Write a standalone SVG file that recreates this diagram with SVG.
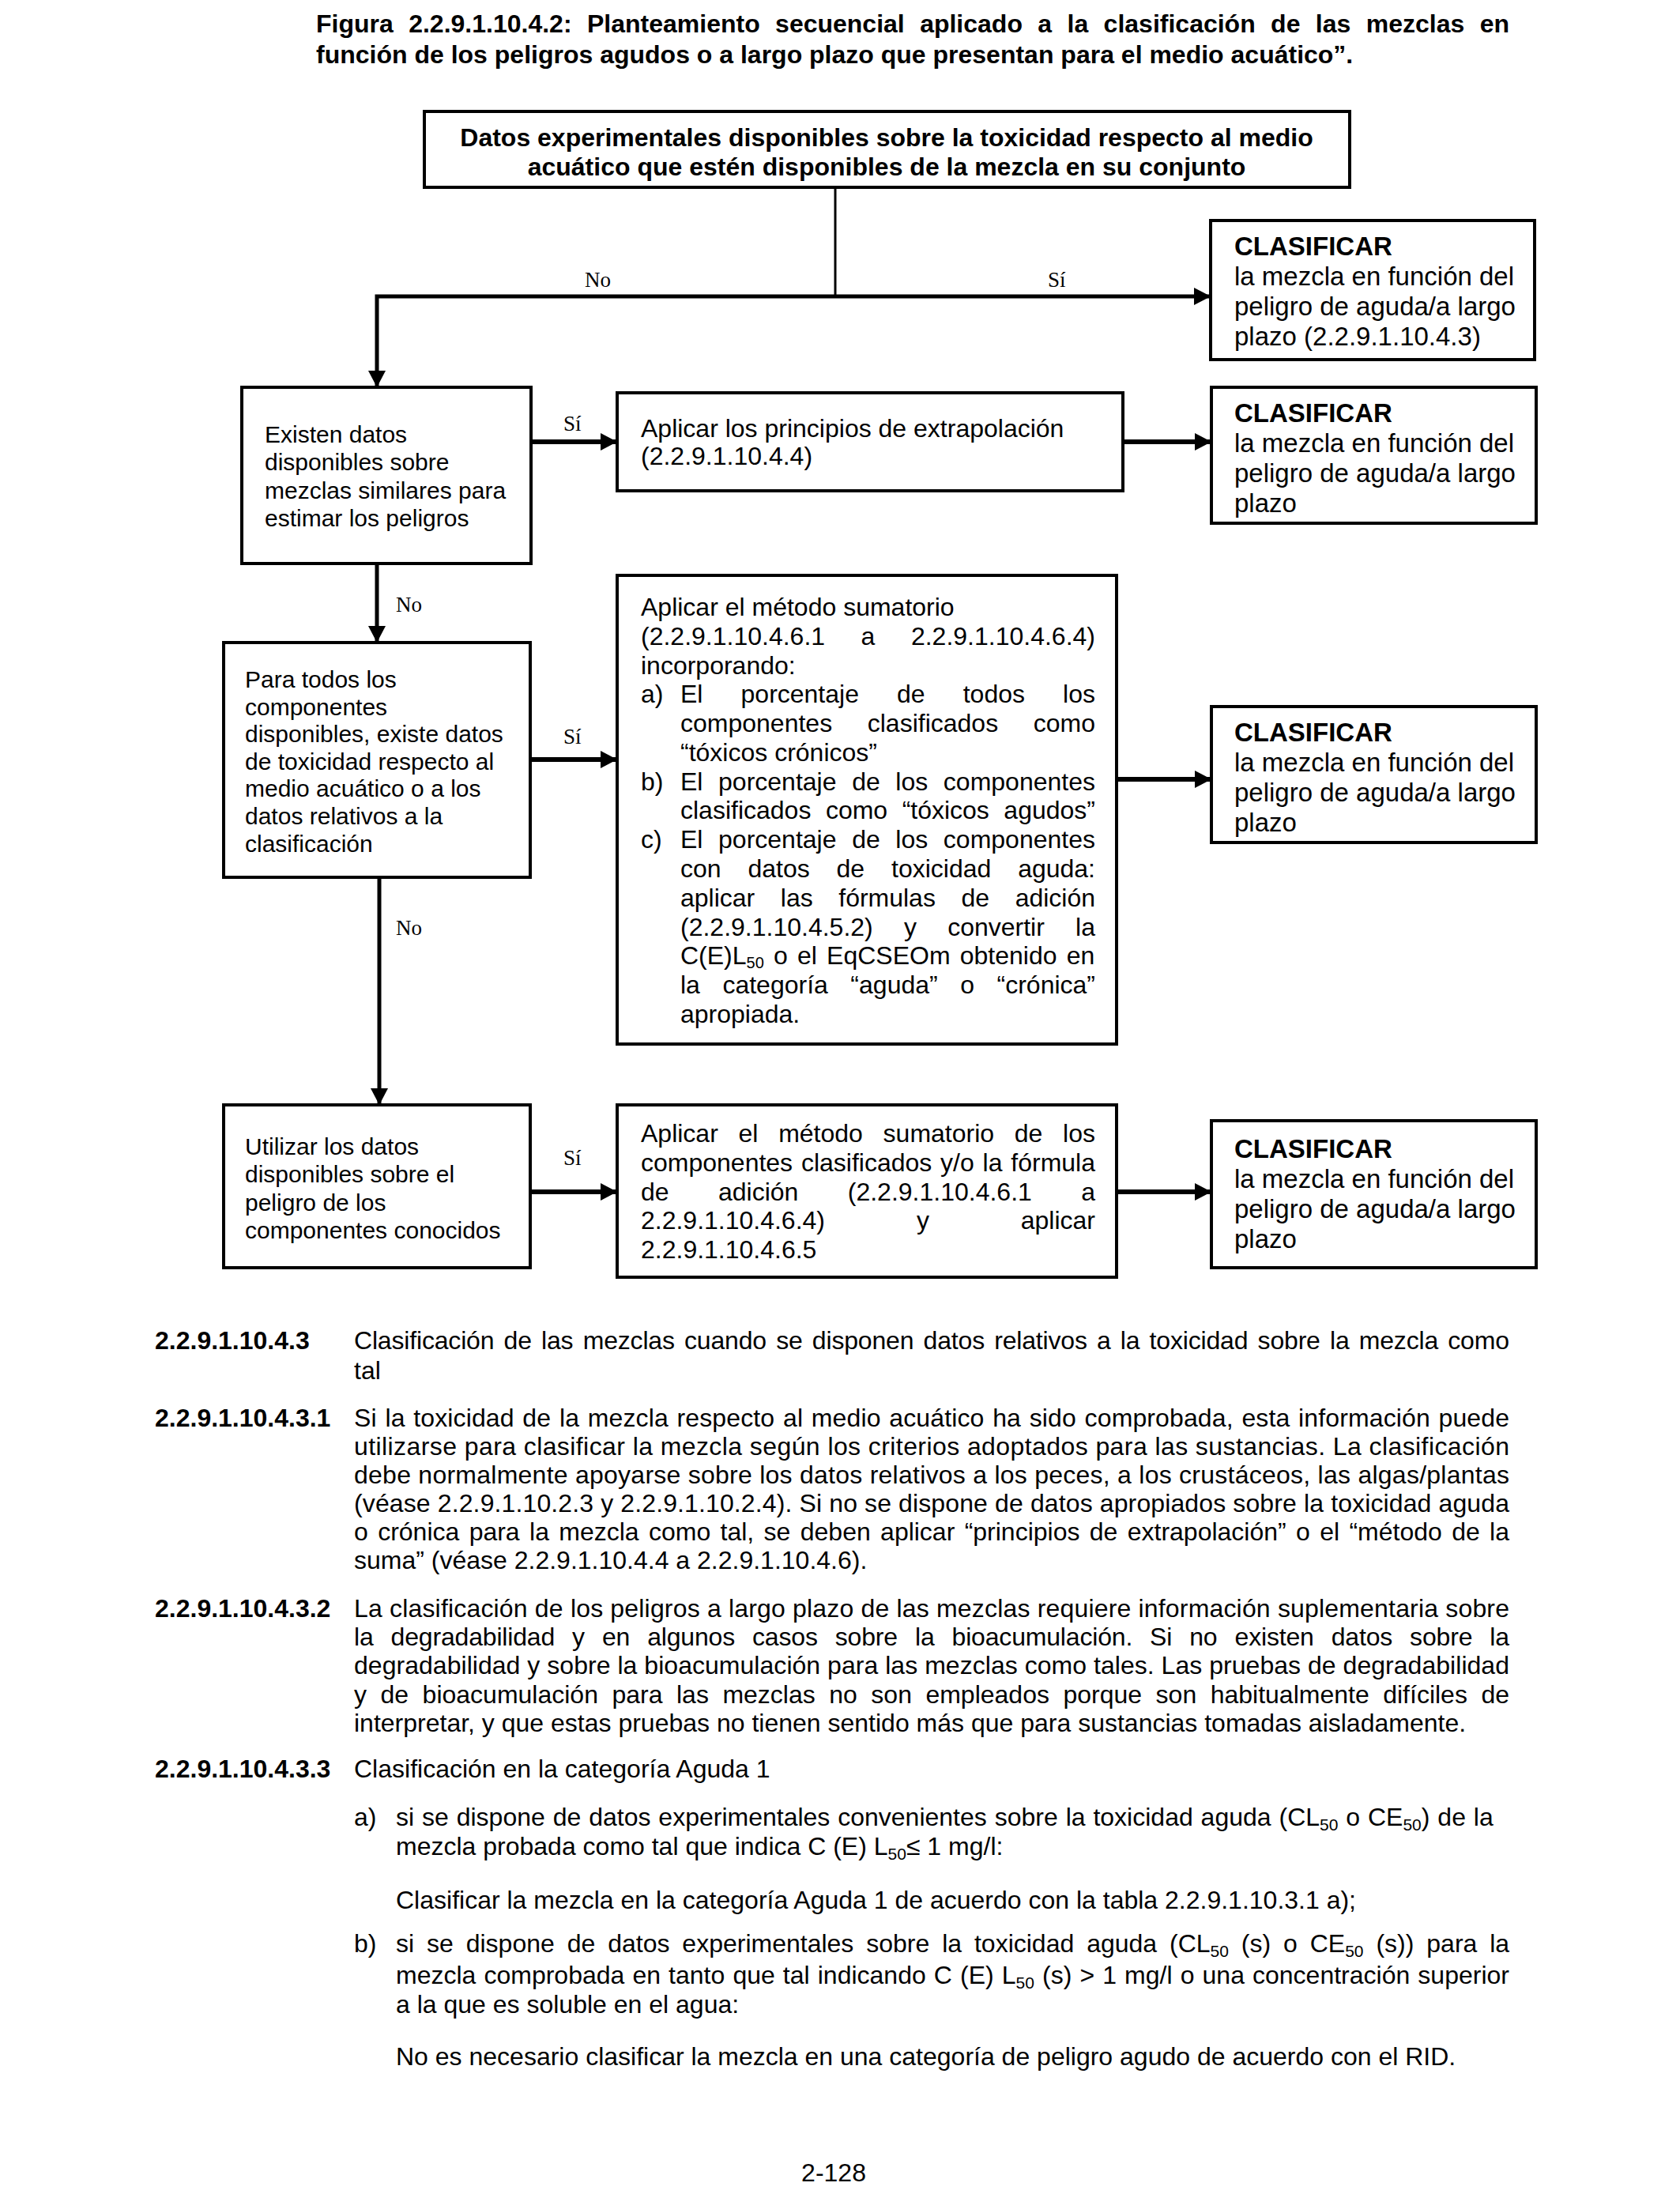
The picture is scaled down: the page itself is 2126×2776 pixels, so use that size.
<svg xmlns="http://www.w3.org/2000/svg" width="2126" height="2776" viewBox="0 0 2126 2776">
<defs>
<style>
.t{font-family:"Liberation Sans",Arial,sans-serif;font-size:32px;fill:#000}
.b{font-weight:bold}
.s30{font-size:30px}
.s33{font-size:33px}
.lbl{font-family:"Liberation Serif","Times New Roman",serif;font-size:27px;fill:#000}
.box{fill:#fff;stroke:#000;stroke-width:4}
.ln{stroke:#000;fill:none;stroke-width:5}
.thk{stroke-width:6}
.thin{stroke-width:3}
</style>
<marker id="ah" markerUnits="userSpaceOnUse" markerWidth="22" markerHeight="24" refX="21" refY="12" orient="auto" viewBox="0 0 22 24"><path d="M0,1 L21,12 L0,23 z" fill="#000"/></marker>
<clipPath id="topclip"><rect x="537" y="141" width="1171" height="88"/></clipPath>
</defs>
<rect width="2126" height="2776" fill="#fff"/>

<g id="title">
<text class="t b" x="400" y="41" word-spacing="10.5" textLength="1510" lengthAdjust="spacing">Figura 2.2.9.1.10.4.2: Planteamiento secuencial aplicado a la clasificación de las mezclas en</text>
<text class="t b" x="400" y="80">función de los peligros agudos o a largo plazo que presentan para el medio acuático”.</text>
</g>

<g id="connectors">
<path class="ln thin" d="M1057,237 V375"/>
<path class="ln" d="M1057,375 H477 V490" marker-end="url(#ah)"/>
<path class="ln" d="M1057,375 H1532" marker-end="url(#ah)"/>
<path class="ln thk" d="M672,559 H781" marker-end="url(#ah)"/>
<path class="ln thk" d="M1421,559 H1533" marker-end="url(#ah)"/>
<path class="ln" d="M477,713 V813" marker-end="url(#ah)"/>
<path class="ln thk" d="M671,961 H781" marker-end="url(#ah)"/>
<path class="ln thk" d="M1413,986 H1533" marker-end="url(#ah)"/>
<path class="ln" d="M480,1110 V1398" marker-end="url(#ah)"/>
<path class="ln thk" d="M671,1508 H781" marker-end="url(#ah)"/>
<path class="ln thk" d="M1413,1508 H1533" marker-end="url(#ah)"/>
<text class="lbl" x="740" y="363">No</text>
<text class="lbl" x="1326" y="363">Sí</text>
<text class="lbl" x="713" y="545">Sí</text>
<text class="lbl" x="501" y="774">No</text>
<text class="lbl" x="713" y="941">Sí</text>
<text class="lbl" x="501" y="1183">No</text>
<text class="lbl" x="713" y="1474">Sí</text>
</g>

<g id="n-datos">
<rect class="box" x="537" y="141" width="1171" height="96"/>
<g clip-path="url(#topclip)">
<text class="t b" x="1122" y="185" text-anchor="middle">Datos experimentales disponibles sobre la toxicidad respecto al medio</text>
<text class="t b" x="1122" y="222" text-anchor="middle">acuático que estén disponibles de la mezcla en su conjunto</text>
</g>
</g>

<g id="n-clas1">
<rect class="box" x="1532" y="279" width="410" height="176"/>
<text class="t s33 b" x="1562" y="323">CLASIFICAR</text>
<text class="t s33" x="1562" y="361">la mezcla en función del</text>
<text class="t s33" x="1562" y="399">peligro de aguda/a largo</text>
<text class="t s33" x="1562" y="437">plazo (2.2.9.1.10.4.3)</text>
</g>

<g id="n-existen">
<rect class="box" x="306" y="490" width="366" height="223"/>
<text class="t s30" x="335" y="560">Existen datos</text>
<text class="t s30" x="335" y="595">disponibles sobre</text>
<text class="t s30" x="335" y="631">mezclas similares para</text>
<text class="t s30" x="335" y="666">estimar los peligros</text>
</g>

<g id="n-extrapolacion">
<rect class="box" x="781" y="497" width="640" height="124"/>
<text class="t" x="811" y="553">Aplicar los principios de extrapolación</text>
<text class="t" x="811" y="588">(2.2.9.1.10.4.4)</text>
</g>

<g id="n-clas2">
<rect class="box" x="1533" y="490" width="411" height="172"/>
<text class="t s33 b" x="1562" y="534">CLASIFICAR</text>
<text class="t s33" x="1562" y="572">la mezcla en función del</text>
<text class="t s33" x="1562" y="610">peligro de aguda/a largo</text>
<text class="t s33" x="1562" y="648">plazo</text>
</g>

<g id="n-paratodos">
<rect class="box" x="283" y="813" width="388" height="297"/>
<text class="t s30" x="310" y="870">Para todos los</text>
<text class="t s30" x="310" y="905">componentes</text>
<text class="t s30" x="310" y="939">disponibles, existe datos</text>
<text class="t s30" x="310" y="974">de toxicidad respecto al</text>
<text class="t s30" x="310" y="1008">medio acuático o a los</text>
<text class="t s30" x="310" y="1043">datos relativos a la</text>
<text class="t s30" x="310" y="1078">clasificación</text>
</g>

<g id="n-sumatorio">
<rect class="box" x="781" y="728" width="632" height="593"/>
<text class="t" x="811" y="779">Aplicar el método sumatorio</text>
<text class="t" x="811" y="816" word-spacing="36.6" textLength="575" lengthAdjust="spacing">(2.2.9.1.10.4.6.1 a 2.2.9.1.10.4.6.4)</text>
<text class="t" x="811" y="853">incorporando:</text>
<text class="t" x="811" y="889">a)</text>
<text class="t" x="861" y="889" word-spacing="39.2" textLength="525" lengthAdjust="spacing">El porcentaje de todos los</text>
<text class="t" x="861" y="926" word-spacing="35.7" textLength="525" lengthAdjust="spacing">componentes clasificados como</text>
<text class="t" x="861" y="963">“tóxicos crónicos”</text>
<text class="t" x="811" y="1000">b)</text>
<text class="t" x="861" y="1000" word-spacing="10.7" textLength="525" lengthAdjust="spacing">El porcentaje de los componentes</text>
<text class="t" x="861" y="1036" word-spacing="9.6" textLength="525" lengthAdjust="spacing">clasificados como “tóxicos agudos”</text>
<text class="t" x="811" y="1073">c)</text>
<text class="t" x="861" y="1073" word-spacing="10.7" textLength="525" lengthAdjust="spacing">El porcentaje de los componentes</text>
<text class="t" x="861" y="1110" word-spacing="25" textLength="525" lengthAdjust="spacing">con datos de toxicidad aguda:</text>
<text class="t" x="861" y="1147" word-spacing="23.7" textLength="525" lengthAdjust="spacing">aplicar las fórmulas de adición</text>
<text class="t" x="861" y="1184" word-spacing="30.3" textLength="525" lengthAdjust="spacing">(2.2.9.1.10.4.5.2) y convertir la</text>
<text class="t" x="861" y="1220" word-spacing="3.3">C(E)L<tspan font-size="20" dy="5">50</tspan><tspan dy="-5"> o el EqCSEOm obtenido en</tspan></text>
<text class="t" x="861" y="1257" word-spacing="19.6" textLength="525" lengthAdjust="spacing">la categoría “aguda” o “crónica”</text>
<text class="t" x="861" y="1294">apropiada.</text>
</g>

<g id="n-clas3">
<rect class="box" x="1533" y="894" width="411" height="172"/>
<text class="t s33 b" x="1562" y="938">CLASIFICAR</text>
<text class="t s33" x="1562" y="976">la mezcla en función del</text>
<text class="t s33" x="1562" y="1014">peligro de aguda/a largo</text>
<text class="t s33" x="1562" y="1052">plazo</text>
</g>

<g id="n-utilizar">
<rect class="box" x="283" y="1398" width="388" height="206"/>
<text class="t s30" x="310" y="1461">Utilizar los datos</text>
<text class="t s30" x="310" y="1496">disponibles sobre el</text>
<text class="t s30" x="310" y="1532">peligro de los</text>
<text class="t s30" x="310" y="1567">componentes conocidos</text>
</g>

<g id="n-sumatorio2">
<rect class="box" x="781" y="1398" width="632" height="218"/>
<text class="t" x="811" y="1445" word-spacing="16.8" textLength="575" lengthAdjust="spacing">Aplicar el método sumatorio de los</text>
<text class="t" x="811" y="1482" word-spacing="1.9" textLength="575" lengthAdjust="spacing">componentes clasificados y/o la fórmula</text>
<text class="t" x="811" y="1519" word-spacing="53.5" textLength="575" lengthAdjust="spacing">de adición (2.2.9.1.10.4.6.1 a</text>
<text class="t" x="811" y="1555" word-spacing="107" textLength="575" lengthAdjust="spacing">2.2.9.1.10.4.6.4) y aplicar</text>
<text class="t" x="811" y="1592">2.2.9.1.10.4.6.5</text>
</g>

<g id="n-clas4">
<rect class="box" x="1533" y="1418" width="411" height="186"/>
<text class="t s33 b" x="1562" y="1465">CLASIFICAR</text>
<text class="t s33" x="1562" y="1503">la mezcla en función del</text>
<text class="t s33" x="1562" y="1541">peligro de aguda/a largo</text>
<text class="t s33" x="1562" y="1579">plazo</text>
</g>

<g id="body">
<text class="t b" x="196" y="1707">2.2.9.1.10.4.3</text>
<text class="t" x="448" y="1707" word-spacing="3.5" textLength="1462" lengthAdjust="spacing">Clasificación de las mezclas cuando se disponen datos relativos a la toxicidad sobre la mezcla como</text>
<text class="t" x="448" y="1745">tal</text>

<text class="t b" x="196" y="1805">2.2.9.1.10.4.3.1</text>
<text class="t" x="448" y="1805" word-spacing="1.7" textLength="1462" lengthAdjust="spacing">Si la toxicidad de la mezcla respecto al medio acuático ha sido comprobada, esta información puede</text>
<text class="t" x="448" y="1841" textLength="1462" lengthAdjust="spacing">utilizarse para clasificar la mezcla según los criterios adoptados para las sustancias. La clasificación</text>
<text class="t" x="448" y="1877" textLength="1462" lengthAdjust="spacing">debe normalmente apoyarse sobre los datos relativos a los peces, a los crustáceos, las algas/plantas</text>
<text class="t" x="448" y="1913" textLength="1462" lengthAdjust="spacing">(véase 2.2.9.1.10.2.3 y 2.2.9.1.10.2.4). Si no se dispone de datos apropiados sobre la toxicidad aguda</text>
<text class="t" x="448" y="1949" word-spacing="3.5" textLength="1462" lengthAdjust="spacing">o crónica para la mezcla como tal, se deben aplicar “principios de extrapolación” o el “método de la</text>
<text class="t" x="448" y="1985">suma” (véase 2.2.9.1.10.4.4 a 2.2.9.1.10.4.6).</text>

<text class="t b" x="196" y="2046">2.2.9.1.10.4.3.2</text>
<text class="t" x="448" y="2046" textLength="1462" lengthAdjust="spacing">La clasificación de los peligros a largo plazo de las mezclas requiere información suplementaria sobre</text>
<text class="t" x="448" y="2082" word-spacing="13.3" textLength="1462" lengthAdjust="spacing">la degradabilidad y en algunos casos sobre la bioacumulación. Si no existen datos sobre la</text>
<text class="t" x="448" y="2118" textLength="1462" lengthAdjust="spacing">degradabilidad y sobre la bioacumulación para las mezclas como tales. Las pruebas de degradabilidad</text>
<text class="t" x="448" y="2155" word-spacing="8.6" textLength="1462" lengthAdjust="spacing">y de bioacumulación para las mezclas no son empleados porque son habitualmente difíciles de</text>
<text class="t" x="448" y="2191">interpretar, y que estas pruebas no tienen sentido más que para sustancias tomadas aisladamente.</text>

<text class="t b" x="196" y="2249">2.2.9.1.10.4.3.3</text>
<text class="t" x="448" y="2249">Clasificación en la categoría Aguda 1</text>

<text class="t" x="448" y="2310">a)</text>
<text class="t" x="501" y="2310" word-spacing="1">si se dispone de datos experimentales convenientes sobre la toxicidad aguda (CL<tspan font-size="21" dy="6">50</tspan><tspan dy="-6"> o CE</tspan><tspan font-size="21" dy="6">50</tspan><tspan dy="-6">) de la</tspan></text>
<text class="t" x="501" y="2347">mezcla probada como tal que indica C (E) L<tspan font-size="21" dy="6">50</tspan><tspan dy="-6">≤ 1 mg/l:</tspan></text>
<text class="t" x="501" y="2415">Clasificar la mezcla en la categoría Aguda 1 de acuerdo con la tabla 2.2.9.1.10.3.1 a);</text>

<text class="t" x="448" y="2470">b)</text>
<text class="t" x="501" y="2470" word-spacing="7">si se dispone de datos experimentales sobre la toxicidad aguda (CL<tspan font-size="21" dy="6">50</tspan><tspan dy="-6"> (s) o CE</tspan><tspan font-size="21" dy="6">50</tspan><tspan dy="-6"> (s)) para la</tspan></text>
<text class="t" x="501" y="2510" word-spacing="1.2">mezcla comprobada en tanto que tal indicando C (E) L<tspan font-size="21" dy="6">50</tspan><tspan dy="-6"> (s) &gt; 1 mg/l o una concentración superior</tspan></text>
<text class="t" x="501" y="2547">a la que es soluble en el agua:</text>
<text class="t" x="501" y="2613">No es necesario clasificar la mezcla en una categoría de peligro agudo de acuerdo con el RID.</text>

<text class="t" x="1055" y="2760" text-anchor="middle">2-128</text>
</g>
</svg>
